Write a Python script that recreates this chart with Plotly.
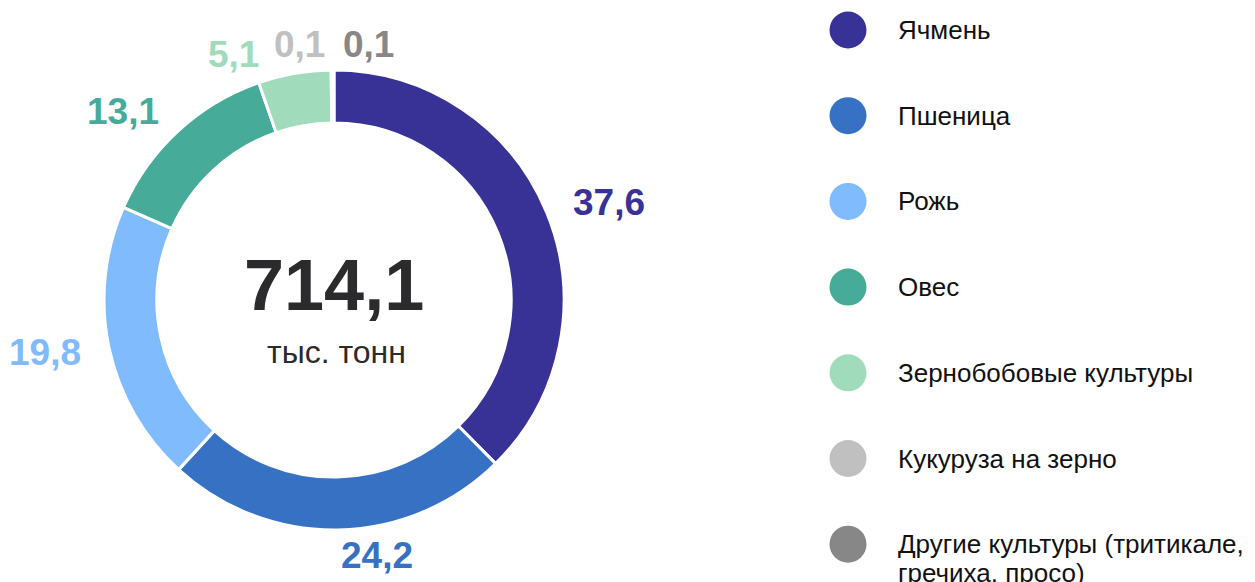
import math
import plotly.graph_objects as go

# ---- data ----
categories = ["Ячмень", "Пшеница", "Рожь", "Овес", "Зернобобовые культуры",
              "Кукуруза на зерно", "Другие культуры (тритикале,<br>гречиха, просо)"]
shares = [37.6, 24.2, 19.8, 13.1, 5.1, 0.1, 0.1]
share_labels = ["37,6", "24,2", "19,8", "13,1", "5,1", "0,1", "0,1"]
total_value = "714,1"
total_unit = "тыс. тонн"
colors = ["#393296", "#3671c4", "#80bbfd", "#46ab98", "#a0dcbc", "#c0c0c0", "#878787"]

# ---- layout constants (page pixels) ----
W, H = 1255, 582
OFF = 8                      # page body margin around the plot div
CX, CY, R = 334, 300, 230
HOLE = 0.77
RL = 256                     # radius of label anchor point
LFS = 37                     # label font size
PAD = 14                     # min pixel gap between label boxes
FONT = "Liberation Sans, Arial, sans-serif"


def px2paper(x, y):
    return (x - OFF) / W, 1 - (y - OFF) / H


fig = go.Figure()
x0, y1 = px2paper(CX - R, CY - R)
x1, y0 = px2paper(CX + R, CY + R)
fig.add_trace(go.Pie(
    values=shares, labels=categories, sort=False, direction="clockwise", rotation=0,
    hole=HOLE, textinfo="none", showlegend=False,
    marker=dict(colors=colors, line=dict(color="white", width=3)),
    domain=dict(x=[x0, x1], y=[y0, y1]),
))

# ---- label placement derived from the slice angles ----
tot = sum(shares)
ang = []
c = 0.0
for v in shares:
    m = (c + v / 2) / tot * 360
    ang.append(m if m <= 180 else m - 360)
    c += v


def width(t):
    return sum(0.278 if ch == "," else 0.556 for ch in t) * LFS


HB = 0.8 * LFS


def box(i):
    th = math.radians(ang[i])
    px = CX + RL * math.sin(th)
    py = CY - RL * math.cos(th)
    w = width(share_labels[i])
    if ang[i] >= 0:
        return px, px + w, py - HB / 2, py + HB / 2
    return px - w, px, py - HB / 2, py + HB / 2


def overlap(i, j):
    a, b = box(i), box(j)
    return not (a[1] + PAD <= b[0] or b[1] + PAD <= a[0] or a[3] <= b[2] or b[3] <= a[2])


order = sorted(range(len(ang)), key=lambda i: ang[i])
# split labels crowding the 12 o'clock position across it
delta = math.degrees(math.asin(PAD / 2 / RL))
for a, b in zip(order, order[1:]):
    if abs(ang[a]) < 5 and abs(ang[b]) < 5 and overlap(a, b):
        ang[a], ang[b] = -delta, delta
# sweep left half (counter-clockwise from the top) and right half (clockwise)
left = sorted([i for i in order if ang[i] < 0], key=lambda i: -ang[i])
right = sorted([i for i in order if ang[i] >= 0], key=lambda i: ang[i])
for seq, step in ((left, -0.25), (right, 0.25)):
    for k in range(1, len(seq)):
        for _ in range(400):
            if not overlap(seq[k - 1], seq[k]):
                break
            ang[seq[k]] += step

annotations = []
for i, txt in enumerate(share_labels):
    th = math.radians(ang[i])
    px = CX + RL * math.sin(th)
    py = CY - RL * math.cos(th)
    xp, yp = px2paper(px, py)
    annotations.append(dict(
        x=xp, y=yp, xref="paper", yref="paper", showarrow=False,
        text=f"<b>{txt}</b>", xanchor="left" if ang[i] >= 0 else "right",
        yanchor="middle", font=dict(family=FONT, size=LFS, color=colors[i]),
    ))

# centre text
xp, yp = px2paper(CX, 285)
annotations.append(dict(x=xp, y=yp, xref="paper", yref="paper", showarrow=False,
                        text=f"<b>{total_value}</b>", xanchor="center", yanchor="middle",
                        font=dict(family=FONT, size=72, color="#2b2b2e")))
xp, yp = px2paper(CX + 2, 352)
annotations.append(dict(x=xp, y=yp, xref="paper", yref="paper", showarrow=False,
                        text=total_unit, xanchor="center", yanchor="middle",
                        font=dict(family=FONT, size=32, color="#2b2b2e")))

# ---- custom legend ----
LX, LTX, LY0, LDY, LR, LLINE = 848, 896, 30, 85.7, 18.5, 29
shapes = []
for i, cat in enumerate(categories):
    y = LY0 + i * LDY
    xa, ya = px2paper(LX, y)
    shapes.append(dict(type="circle", xref="paper", yref="paper", xsizemode="pixel", ysizemode="pixel",
                       xanchor=xa, yanchor=ya, x0=-LR, x1=LR, y0=-LR, y1=LR,
                       fillcolor=colors[i], line=dict(width=0)))
    for j, line in enumerate(cat.split("<br>")):
        xt, yt = px2paper(LTX, y + j * LLINE)
        annotations.append(dict(x=xt, y=yt, xref="paper", yref="paper", showarrow=False, text=line,
                                xanchor="left", yanchor="middle", align="left",
                                font=dict(family=FONT, size=26, color="#111111")))

fig.update_layout(
    width=W, height=H, margin=dict(l=0, r=0, t=0, b=0),
    paper_bgcolor="white", plot_bgcolor="white",
    annotations=annotations, shapes=shapes, showlegend=False,
)
fig.write_html("out.html")
